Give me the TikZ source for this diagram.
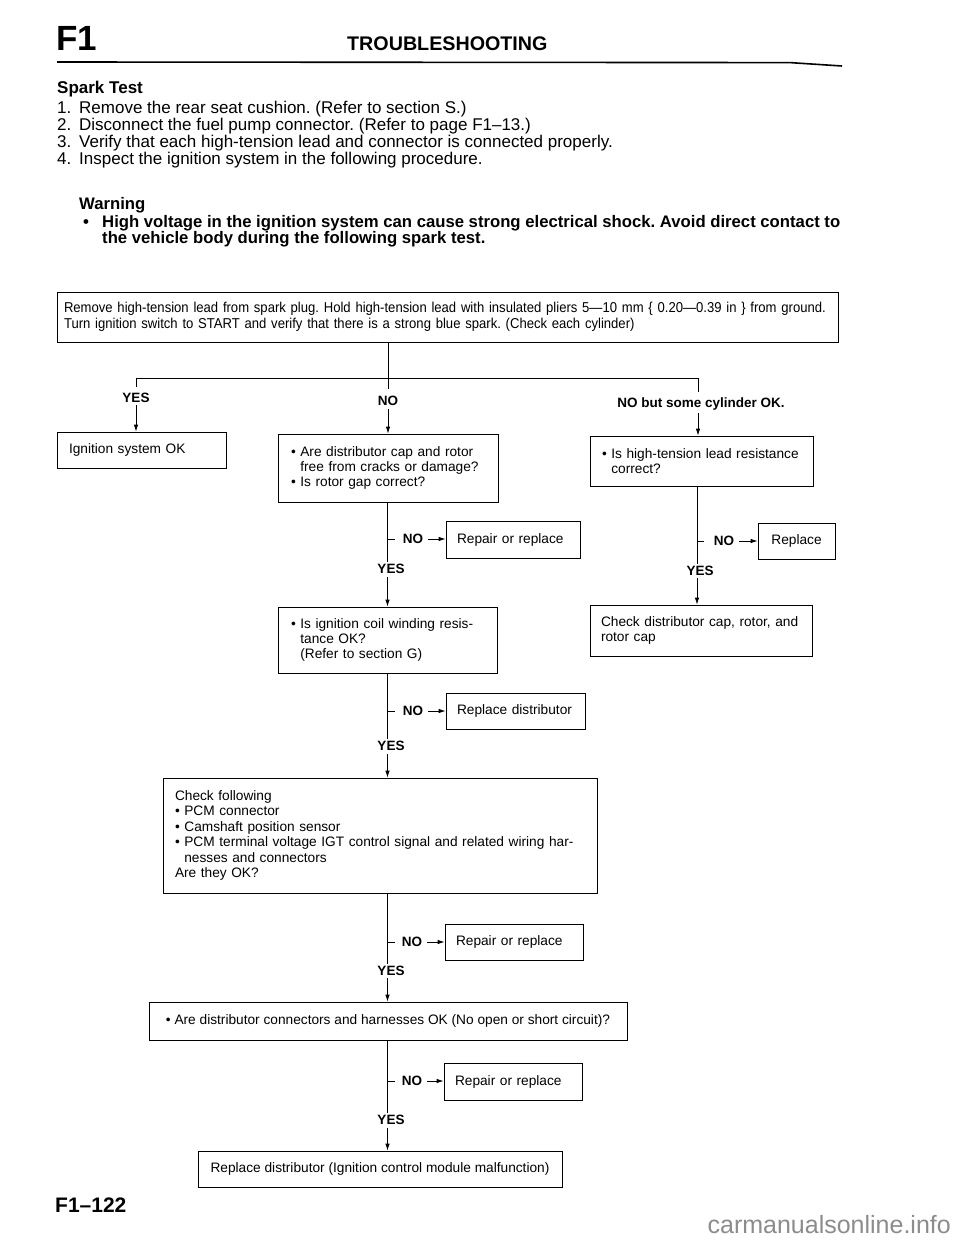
\documentclass[tikz,border=0pt]{standalone}
\usepackage{fontspec}
\setmainfont{Liberation Sans}
\newfontfamily\condfont[FakeStretch=0.915]{Liberation Sans}
\usetikzlibrary{arrows.meta}
\begin{document}
\frenchspacing
\begin{tikzpicture}[x=1pt,y=-1pt,
  box/.style={draw, line width=0.8pt, inner ysep=0pt, align=left,
    font=\fontsize{13.7}{15.4}\selectfont},
  lbl/.style={font=\bfseries\fontsize{13.5}{15}\selectfont, inner sep=0pt},
  ln/.style={line width=0.8pt},
  arr/.style={line width=0.8pt, -{Latex[length=7pt,width=4.5pt]}},
  hd/.style={anchor=base west, inner sep=0pt, font=\fontsize{17}{17}\selectfont},
  hdb/.style={anchor=base west, inner sep=0pt, font=\bfseries\fontsize{17}{17}\selectfont},
  wrn/.style={anchor=base west, inner sep=0pt, font=\bfseries\fontsize{16.7}{17}\selectfont}]
\useasboundingbox (0,0) rectangle (960,1242);
\fill[white] (0,0) rectangle (960,1242);

% ---- header ----
\node[anchor=base west, inner sep=0pt, font=\bfseries\fontsize{35}{35}\selectfont] (f1) at (56,50) {F1};
\node[anchor=base west, inner sep=0pt, font=\bfseries\fontsize{19.7}{19.7}\selectfont] (title) at (347,50) {TROUBLESHOOTING};
\draw[line width=1.6pt] (57,62) -- (790,62.6) -- (842,66);

\node[hdb] (spark) at (57,93) {Spark Test};
\node[hd] (l1) at (57,113) {\makebox[22pt][l]{1.}Remove the rear seat cushion. (Refer to section S.)};
\node[hd] (l2) at (57,130) {\makebox[22pt][l]{2.}Disconnect the fuel pump connector. (Refer to page F1–13.)};
\node[hd] (l3) at (57,147) {\makebox[22pt][l]{3.}Verify that each high-tension lead and connector is connected properly.};
\node[hd] (l4) at (57,164) {\makebox[22pt][l]{4.}Inspect the ignition system in the following procedure.};

\node[wrn] (warn) at (79,209) {Warning};
\node[wrn] (wb) at (83,227) {\textbullet};
\node[wrn] (w1) at (102,227) {High voltage in the ignition system can cause strong electrical shock. Avoid direct contact to};
\node[wrn] (w2) at (102,243) {the vehicle body during the following spark test.};

% ---- boxes ----
\node[box, minimum width=781pt, minimum height=50pt, text width=767pt, inner xsep=7pt,
  font=\condfont\fontsize{14.3}{16}\selectfont] (top) at (447.5,317)
  {Remove high-tension lead from spark plug. Hold high-tension lead with insulated pliers 5—10 mm \{ 0.20—0.39 in \} from ground.\\
   Turn ignition switch to START and verify that there is a strong blue spark. (Check each cylinder)};

\node[box, minimum width=169pt, minimum height=36pt, text width=145pt, inner xsep=12pt] (ok) at (141.5,450) {Ignition system OK};

\node[box, minimum width=220pt, minimum height=68pt, text width=194pt, inner xsep=13pt] (q1) at (388,468)
  {\textbullet\ Are distributor cap and rotor\\\phantom{\textbullet\ }free from cracks or damage?\\\textbullet\ Is rotor gap correct?};

\node[box, minimum width=223pt, minimum height=50pt, text width=199pt, inner xsep=12pt] (r1) at (701.5,461)
  {\textbullet\ Is high-tension lead resistance\\\phantom{\textbullet\ }correct?};

\node[box, minimum width=77pt, minimum height=36pt, align=center] (rep) at (796.5,541) {Replace};

\node[box, minimum width=222pt, minimum height=51pt, text width=200pt, inner xsep=11pt] (chk) at (701,630.5)
  {Check distributor cap, rotor, and\\rotor cap};

\node[box, minimum width=134pt, minimum height=37pt, text width=112pt, inner xsep=11pt] (rr1) at (513,539.5) {Repair or replace};

\node[box, minimum width=219pt, minimum height=66pt, text width=193pt, inner xsep=13pt] (q2) at (387.5,640)
  {\textbullet\ Is ignition coil winding resis-\\\phantom{\textbullet\ }tance OK?\\\phantom{\textbullet\ }(Refer to section G)};

\node[box, minimum width=139pt, minimum height=36pt, text width=117pt, inner xsep=11pt] (rd) at (515.5,711) {Replace distributor};

\node[box, minimum width=434pt, minimum height=115pt, text width=410pt, inner xsep=12pt] (q3) at (380,835.5)
  {Check following\\
   \textbullet\ PCM connector\\
   \textbullet\ Camshaft position sensor\\
   \textbullet\ PCM terminal voltage IGT control signal and related wiring har-\\
   \phantom{\textbullet\ }nesses and connectors\\
   Are they OK?};

\node[box, minimum width=138pt, minimum height=36pt, text width=116pt, inner xsep=11pt] (rr2) at (514,942) {Repair or replace};

\node[box, minimum width=478pt, minimum height=38pt, align=center] (q4) at (388,1021)
  {\textbullet\ Are distributor connectors and harnesses OK (No open or short circuit)?};

\node[box, minimum width=138pt, minimum height=37pt, text width=116pt, inner xsep=11pt] (rr3) at (513,1081.5) {Repair or replace};

\node[box, minimum width=364pt, minimum height=36pt, align=center] (fin) at (380,1169)
  {Replace distributor (Ignition control module malfunction)};

% ---- top branch ----
\coordinate (hL) at (136,378);
\coordinate (hM) at (388,378);
\coordinate (hR) at (698,378);
\coordinate (xC) at (387.5,0);
\coordinate (xR) at (697,0);

\draw[ln] (top.south -| hM) -- (388,389);
\draw[ln] (hL) -- (hR);
\draw[ln] (hL) -- ++(0,9);
\draw[ln] (hR) -- ++(0,14);

\node[lbl] (yesL) at (136,397.5) {YES};
\node[lbl] (noM) at (388,401) {NO};
\node[lbl] (noR) at (701,404) {NO but some cylinder OK.};

\draw[arr, shorten <=3pt] (yesL.south) -- (yesL.south |- ok.north);
\draw[arr, shorten <=3pt] (noM.south) -- (noM.south |- q1.north);
\draw[arr, shorten <=3pt] (noR.south -| hR) -- (hR |- r1.north);

% ---- right column ----
\node[lbl] (noRR) at (724,541) {NO};
\node[lbl] (yesRR) at (700,570.5) {YES};
\draw[ln, shorten >=2pt] (r1.south -| xR) -- (yesRR.north -| xR);
\draw[ln] (noRR.west -| xR) -- ++(7,0);
\draw[arr, shorten <=5pt] (noRR.east) -- (noRR.east -| rep.west);
\draw[arr, shorten <=3pt] (yesRR.south -| xR) -- (xR |- chk.north);

% ---- main column, stage A ----
\node[lbl] (noA) at (413,539) {NO};
\node[lbl] (yesA) at (391,569) {YES};
\draw[ln, shorten >=2pt] (q1.south -| xC) -- (yesA.north -| xC);
\draw[ln] (noA.west -| xC) -- ++(7,0);
\draw[arr, shorten <=5pt] (noA.east) -- (noA.east -| rr1.west);
\draw[arr, shorten <=3pt] (yesA.south -| xC) -- (xC |- q2.north);

% ---- stage B ----
\node[lbl] (noB) at (413,711) {NO};
\node[lbl] (yesB) at (391,746) {YES};
\draw[ln, shorten >=2pt] (q2.south -| xC) -- (yesB.north -| xC);
\draw[ln] (noB.west -| xC) -- ++(7,0);
\draw[arr, shorten <=5pt] (noB.east) -- (noB.east -| rd.west);
\draw[arr, shorten <=3pt] (yesB.south -| xC) -- (xC |- q3.north);

% ---- stage C ----
\node[lbl] (noC) at (412,942) {NO};
\node[lbl] (yesC) at (391,970.5) {YES};
\draw[ln, shorten >=2pt] (q3.south -| xC) -- (yesC.north -| xC);
\draw[ln] (noC.west -| xC) -- ++(7,0);
\draw[arr, shorten <=5pt] (noC.east) -- (noC.east -| rr2.west);
\draw[arr, shorten <=3pt] (yesC.south -| xC) -- (xC |- q4.north);

% ---- stage D ----
\node[lbl] (noD) at (412,1081) {NO};
\node[lbl] (yesD) at (391,1120) {YES};
\draw[ln, shorten >=2pt] (q4.south -| xC) -- (yesD.north -| xC);
\draw[ln] (noD.west -| xC) -- ++(7,0);
\draw[arr, shorten <=5pt] (noD.east) -- (noD.east -| rr3.west);
\draw[arr, shorten <=3pt] (yesD.south -| xC) -- (xC |- fin.north);

% ---- footer ----
\node[anchor=base west, inner sep=0pt, font=\bfseries\fontsize{21}{21}\selectfont] (pg) at (55,1212) {F1–122};
\node[anchor=base east, inner sep=0pt, text=black!45, font=\fontsize{25}{25}\selectfont] (wm) at (951,1233) {carmanualsonline.info};
\end{tikzpicture}
\end{document}
